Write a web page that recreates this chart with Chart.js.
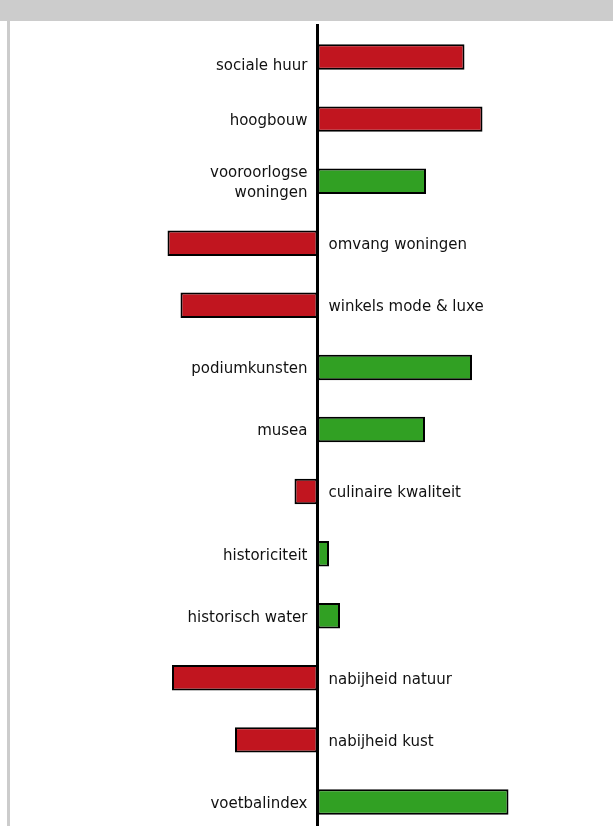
<!DOCTYPE html>
<html>
<head>
<meta charset="utf-8">
<script src="https://cdn.jsdelivr.net/npm/chart.js@4/dist/chart.umd.min.js"></script>
<style>
  html, body { margin: 0; padding: 0; overflow: hidden; background: #ffffff; }
  body { width: 613px; height: 826px; position: relative; }
  #band { position: absolute; left: 0; top: 0; width: 613px; height: 21px; background: #cccccc; }
  #edge { position: absolute; left: 7px; top: 21px; width: 3px; height: 805px; background: #cccccc; }
  #wrap { position: absolute; left: 10px; top: 22px; width: 603px; height: 811px; }
</style>
</head>
<body>
<div id="band"></div>
<div id="edge"></div>
<div id="wrap"><canvas id="c"></canvas></div>
<script>
const categories = [
  ["sociale huur"], ["hoogbouw"], ["vooroorlogse", "woningen"], ["omvang woningen"],
  ["winkels mode & luxe"], ["podiumkunsten"], ["musea"], ["culinaire kwaliteit"],
  ["historiciteit"], ["historisch water"], ["nabijheid natuur"], ["nabijheid kust"], ["voetbalindex"]
];
const values = [1.47, 1.65, 1.085, -1.50, -1.37, 1.545, 1.075, -0.23, 0.115, 0.225, -1.455, -0.825, 1.91];
const colorGroups = ["red", "red", "green", "red", "red", "green", "green", "red", "green", "green", "red", "red", "green"];
const palette = { red: "#c1151f", green: "#31a023" };

const labelPlugin = {
  id: "sideLabels",
  afterDatasetsDraw(chart) {
    const ctx = chart.ctx;
    const x0 = chart.scales.x.getPixelForValue(0);
    const ys = chart.scales.y;
    ctx.save();
    ctx.strokeStyle = "#000";
    ctx.lineWidth = 3;
    ctx.beginPath();
    ctx.moveTo(x0, chart.chartArea.top - 2);
    ctx.lineTo(x0, chart.chartArea.bottom);
    ctx.stroke();
    ctx.font = "15px 'DejaVu Sans'";
    ctx.fillStyle = "#111";
    ctx.textBaseline = "middle";
    const firstNudge = 7;
    categories.forEach((lines, i) => {
      const y = ys.getPixelForValue(i) + 2 + (i === 0 ? firstNudge : 0);
      const pos = values[i] >= 0;
      ctx.textAlign = pos ? "right" : "left";
      const x = pos ? x0 - 10 : x0 + 11;
      const lh = 20;
      const startY = y - (lines.length - 1) * lh / 2;
      lines.forEach((t, k) => ctx.fillText(t, x, startY + k * lh));
    });
    ctx.restore();
  }
};

new Chart(document.getElementById("c"), {
  type: "bar",
  data: {
    labels: categories.map(l => l.join(" ")),
    datasets: [{
      data: values,
      backgroundColor: colorGroups.map(g => palette[g]),
      borderColor: "#000000",
      borderWidth: 2,
      borderSkipped: false,
      barPercentage: 0.41,
      categoryPercentage: 1.0
    }]
  },
  options: {
    indexAxis: "y",
    responsive: true,
    maintainAspectRatio: false,
    animation: false,
    layout: { padding: { top: 4, left: 0, right: 0, bottom: 0 } },
    plugins: { legend: { display: false }, tooltip: { enabled: false } },
    scales: {
      x: { display: false, min: -3.075, max: 2.955 },
      y: { display: false, offset: true }
    }
  },
  plugins: [labelPlugin]
});
</script>
</body>
</html>
